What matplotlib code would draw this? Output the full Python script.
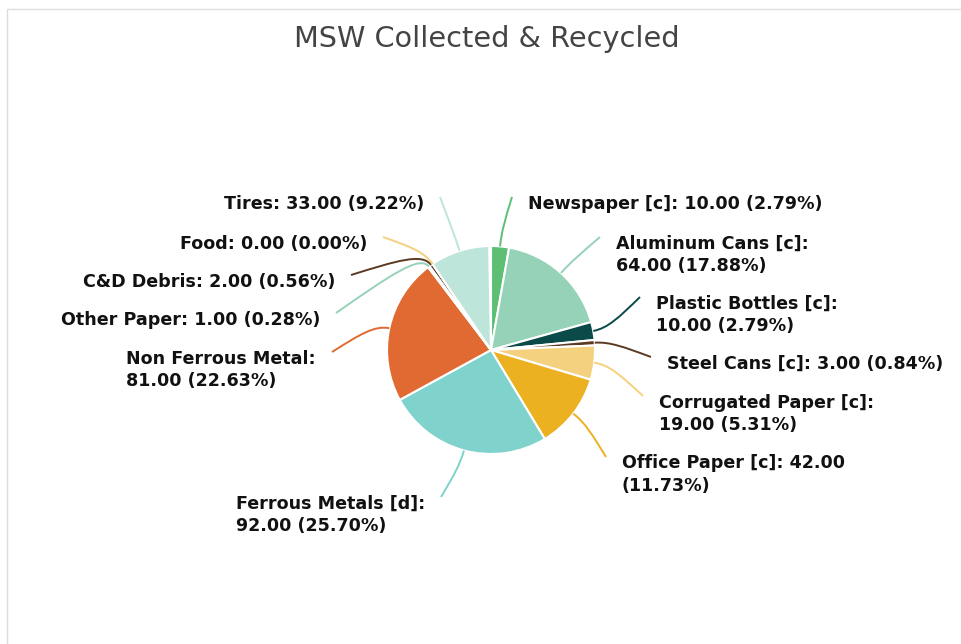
import numpy as np
import matplotlib.pyplot as plt
from matplotlib.path import Path
from matplotlib.patches import PathPatch, Rectangle

# slice data (clockwise from 12 o'clock)
categories = ['Newspaper [c]', 'Aluminum Cans [c]', 'Plastic Bottles [c]', 'Steel Cans [c]',
              'Corrugated Paper [c]', 'Office Paper [c]', 'Ferrous Metals [d]', 'Non Ferrous Metal',
              'Other Paper', 'C&D Debris', 'Food', 'Tires']
values = [10, 64, 10, 3, 19, 42, 92, 81, 1, 2, 0, 33]
percents = [2.79, 17.88, 2.79, 0.84, 5.31, 11.73, 25.70, 22.63, 0.28, 0.56, 0.00, 9.22]
colors = ['#5dbf74', '#95d2b8', '#0a4a49', '#5b3a24', '#f4d17f', '#ebb121', '#80d2cd',
          '#e06a31', '#95d2b8', '#5b3a24', '#f4d17f', '#bee5da']

# label text wrapping as in the chart
label_lines = [
    ['Newspaper [c]: 10.00 (2.79%)'],
    ['Aluminum Cans [c]:', '64.00 (17.88%)'],
    ['Plastic Bottles [c]:', '10.00 (2.79%)'],
    ['Steel Cans [c]: 3.00 (0.84%)'],
    ['Corrugated Paper [c]:', '19.00 (5.31%)'],
    ['Office Paper [c]: 42.00', '(11.73%)'],
    ['Ferrous Metals [d]:', '92.00 (25.70%)'],
    ['Non Ferrous Metal:', '81.00 (22.63%)'],
    ['Other Paper: 1.00 (0.28%)'],
    ['C&D Debris: 2.00 (0.56%)'],
    ['Food: 0.00 (0.00%)'],
    ['Tires: 33.00 (9.22%)'],
]

# layout (pixels, y measured from the top)
W, H = 962, 644
cx, cy, R = 491, 350, 104
leader_ends = [(512, 197), (600, 237), (640, 297), (651, 357), (643, 396), (606, 457),
               (441, 497), (332, 352), (336, 313), (351, 275), (383, 237), (440, 197)]

fig = plt.figure(figsize=(W / 100, H / 100), dpi=100)
ax = fig.add_axes([0, 0, 1, 1])

fig.patches.append(Rectangle((7 / W, -0.1), 1.2, 1 - 9 / H + 0.1, transform=fig.transFigure,
                             fill=False, edgecolor='#dddddd', linewidth=1))

total = sum(values) + 1  # chart percentages are based on 358
fracs = [v / total for v in values]
ax.pie(fracs, colors=colors, startangle=90, counterclock=False, normalize=False,
       center=(cx, H - cy), radius=R,
       wedgeprops=dict(edgecolor='white', linewidth=1.5))
ax.set_xlim(0, W)
ax.set_ylim(0, H)
ax.set_aspect('equal')
ax.axis('off')

cum = np.cumsum([0] + fracs)
for i, lines in enumerate(label_lines):
    mid = (cum[i] + fracs[i] / 2) * 2 * np.pi
    dx, dy = np.sin(mid), np.cos(mid)
    p0 = np.array([cx + R * dx, H - cy + R * dy])
    knee = np.array([cx + (R + 15) * dx, H - cy + (R + 15) * dy])
    ex, ey = leader_ends[i]
    side = 1 if ex > cx else -1
    p3 = np.array([ex, H - ey])
    p2 = knee + 0.35 * (p3 - knee)
    path = Path([p0, knee, p2, p3], [Path.MOVETO, Path.CURVE4, Path.CURVE4, Path.CURVE4])
    ax.add_patch(PathPatch(path, fill=False, edgecolor=colors[i], linewidth=1.4))
    tx = ex + side * 16
    ax.text(tx, H - ey + 2.5, '\n'.join(lines), ha='left' if side > 0 else 'right',
            va='top', multialignment='left', fontsize=12.6, fontweight='bold',
            color='#111111', linespacing=1.3, family='DejaVu Sans')

ax.text(487, H - 39, 'MSW Collected & Recycled', ha='center', va='center',
        fontsize=20.7, color='#444444', family='DejaVu Sans')

fig.savefig('out.png', dpi=100)
